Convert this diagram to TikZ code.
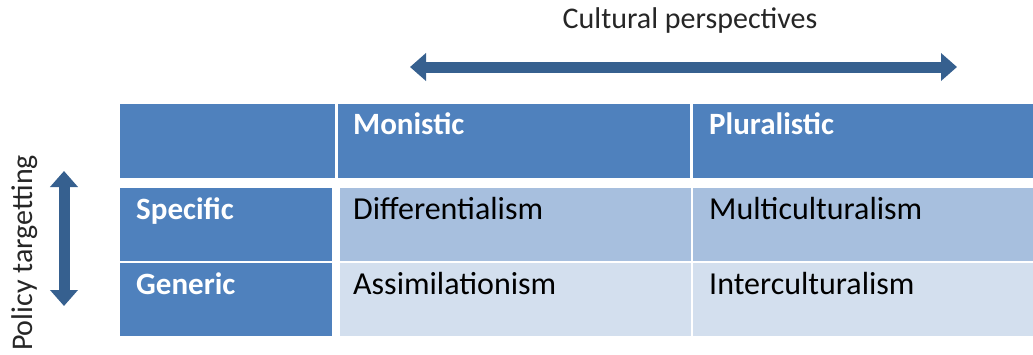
\documentclass[tikz,border=0pt]{standalone}
\usepackage{fontspec}
\setmainfont{Carlito}
\usetikzlibrary{arrows.meta}
\definecolor{hdrBlue}{HTML}{4F81BD}
\definecolor{rowOne}{HTML}{A7BFDE}
\definecolor{rowTwo}{HTML}{D3DFEE}
\definecolor{arrBlue}{HTML}{36608F}

\begin{document}
\begin{tikzpicture}[x=1pt,y=-1pt]
	\tikzset{cell/.style = {anchor=north west,inner sep=0pt,outer sep=0pt}}
	\tikzstyle{txt} = [anchor=base west,inner sep=0pt,font=\fontsize{32}{36}\selectfont]
	\tikzstyle{hdtxt} = [txt,text=white,font=\fontsize{31}{36}\selectfont\bfseries]
	\tikzstyle{axtxt} = [txt,anchor=base,text=black!85,font=\fontsize{30}{34}\selectfont]
	\tikzstyle{bigArrow} = [{Triangle[width=27pt,length=16pt]}-{Triangle[width=27pt,length=16pt]},line width=11pt,arrBlue]
	\useasboundingbox (0,0) rectangle (1033,354);
	%header row
	\node[cell,fill=hdrBlue,minimum width=215pt,minimum height=74pt] (corner) at (120,104) {};
	\node[cell,fill=hdrBlue,minimum width=352pt,minimum height=74pt] (mon) at (338,104) {};
	\node[cell,fill=hdrBlue,minimum width=340pt,minimum height=74pt] (plu) at (693,104) {};
	\node[hdtxt] (monT) at (353,134) {Monistic};
	\node[hdtxt] (pluT) at (709,134) {Pluralistic};
	%row headers
	\node[cell,fill=hdrBlue,minimum width=212pt,minimum height=73pt] (spec) at (120,188) {};
	\node[cell,fill=hdrBlue,minimum width=212pt,minimum height=73pt] (gen) at (120,263) {};
	\node[hdtxt] (specT) at (136,219) {Specific};
	\node[hdtxt] (genT) at (136,294) {Generic};
	%body
	\node[cell,fill=rowOne,minimum width=351pt,minimum height=73pt] (diff) at (340,188) {};
	\node[cell,fill=rowOne,minimum width=340pt,minimum height=73pt] (multi) at (693,188) {};
	\node[cell,fill=rowTwo,minimum width=351pt,minimum height=73pt] (assim) at (340,263) {};
	\node[cell,fill=rowTwo,minimum width=340pt,minimum height=73pt] (inter) at (693,263) {};
	\node[txt] (diffT) at (353,219) {Differentialism};
	\node[txt] (multiT) at (709,219) {Multiculturalism};
	\node[txt] (assimT) at (353,294) {Assimilationism};
	\node[txt] (interT) at (709,294) {Interculturalism};
	%axes
	\node[axtxt] (cult) at (690,28) {Cultural perspectives};
	\coordinate (cultL) at (410,67);
	\coordinate (cultR) at (957,67);
	\draw[bigArrow] (cultL) -- (cultR);
	\node[axtxt,rotate=90] (pol) at (32,253) {Policy targetting};
	\coordinate (polT) at (64,171);
	\coordinate (polB) at (64,306);
	\draw[bigArrow] (polT) -- (polB);
\end{tikzpicture}
\end{document}
